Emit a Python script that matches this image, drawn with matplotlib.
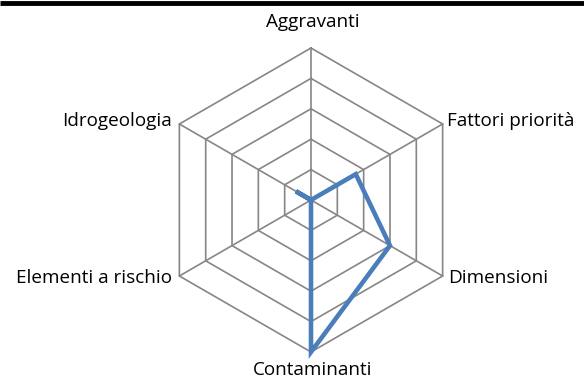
import numpy as np
import matplotlib
matplotlib.use("Agg")
import matplotlib.pyplot as plt

categories = ["Aggravanti", "Fattori priorità", "Dimensioni", "Contaminanti",
              "Elementi a rischio", "Idrogeologia"]
values = [0.0, 1.7, 3.0, 5.0, 0.0, 0.57]
rmax = 5
rings = [1, 2, 3, 4, 5]

W, H = 584, 380
fig = plt.figure(figsize=(W / 100, H / 100), dpi=100)
ax = fig.add_axes([0, 0, 1, 1])
ax.set_xlim(0, W)
ax.set_ylim(H, 0)
ax.axis("off")

cx, cy, R = 311, 200, 152
n = len(categories)
ang = np.deg2rad(90 - 60 * np.arange(n))

def pt(r, a):
    return cx + R * r / rmax * np.cos(a), cy - R * r / rmax * np.sin(a)

grid_c = "#868686"
for rr in rings:
    xs, ys = pt(rr, np.append(ang, ang[0]))
    ax.plot(xs, ys, color=grid_c, lw=1.2, zorder=1)
for a in ang:
    x1, y1 = pt(rmax, a)
    ax.plot([cx, x1], [cy, y1], color=grid_c, lw=1.2, zorder=1)

v = np.array(values + [values[0]])
xs, ys = pt(v, np.append(ang, ang[0]))
ax.plot(xs, ys, color="#4A7EBB", lw=3.3, zorder=3, solid_joinstyle="miter")

ax.plot([0, W], [2.5, 2.5], color="black", lw=3.5, solid_capstyle="butt")

fs = 13.6
fam = ["Open Sans", "DejaVu Sans"]
ax.text(cx + 2, 22, categories[0], ha="center", va="center", fontsize=fs, family=fam)
ax.text(447, 121, categories[1], ha="left", va="center", fontsize=fs, family=fam)
ax.text(448, 278, categories[2], ha="left", va="center", fontsize=fs, family=fam)
ax.text(cx + 2, 370, categories[3], ha="center", va="center", fontsize=fs, family=fam)
ax.text(172, 278, categories[4], ha="right", va="center", fontsize=fs, family=fam)
ax.text(172, 121, categories[5], ha="right", va="center", fontsize=fs, family=fam)

fig.savefig("out.png", dpi=100)
